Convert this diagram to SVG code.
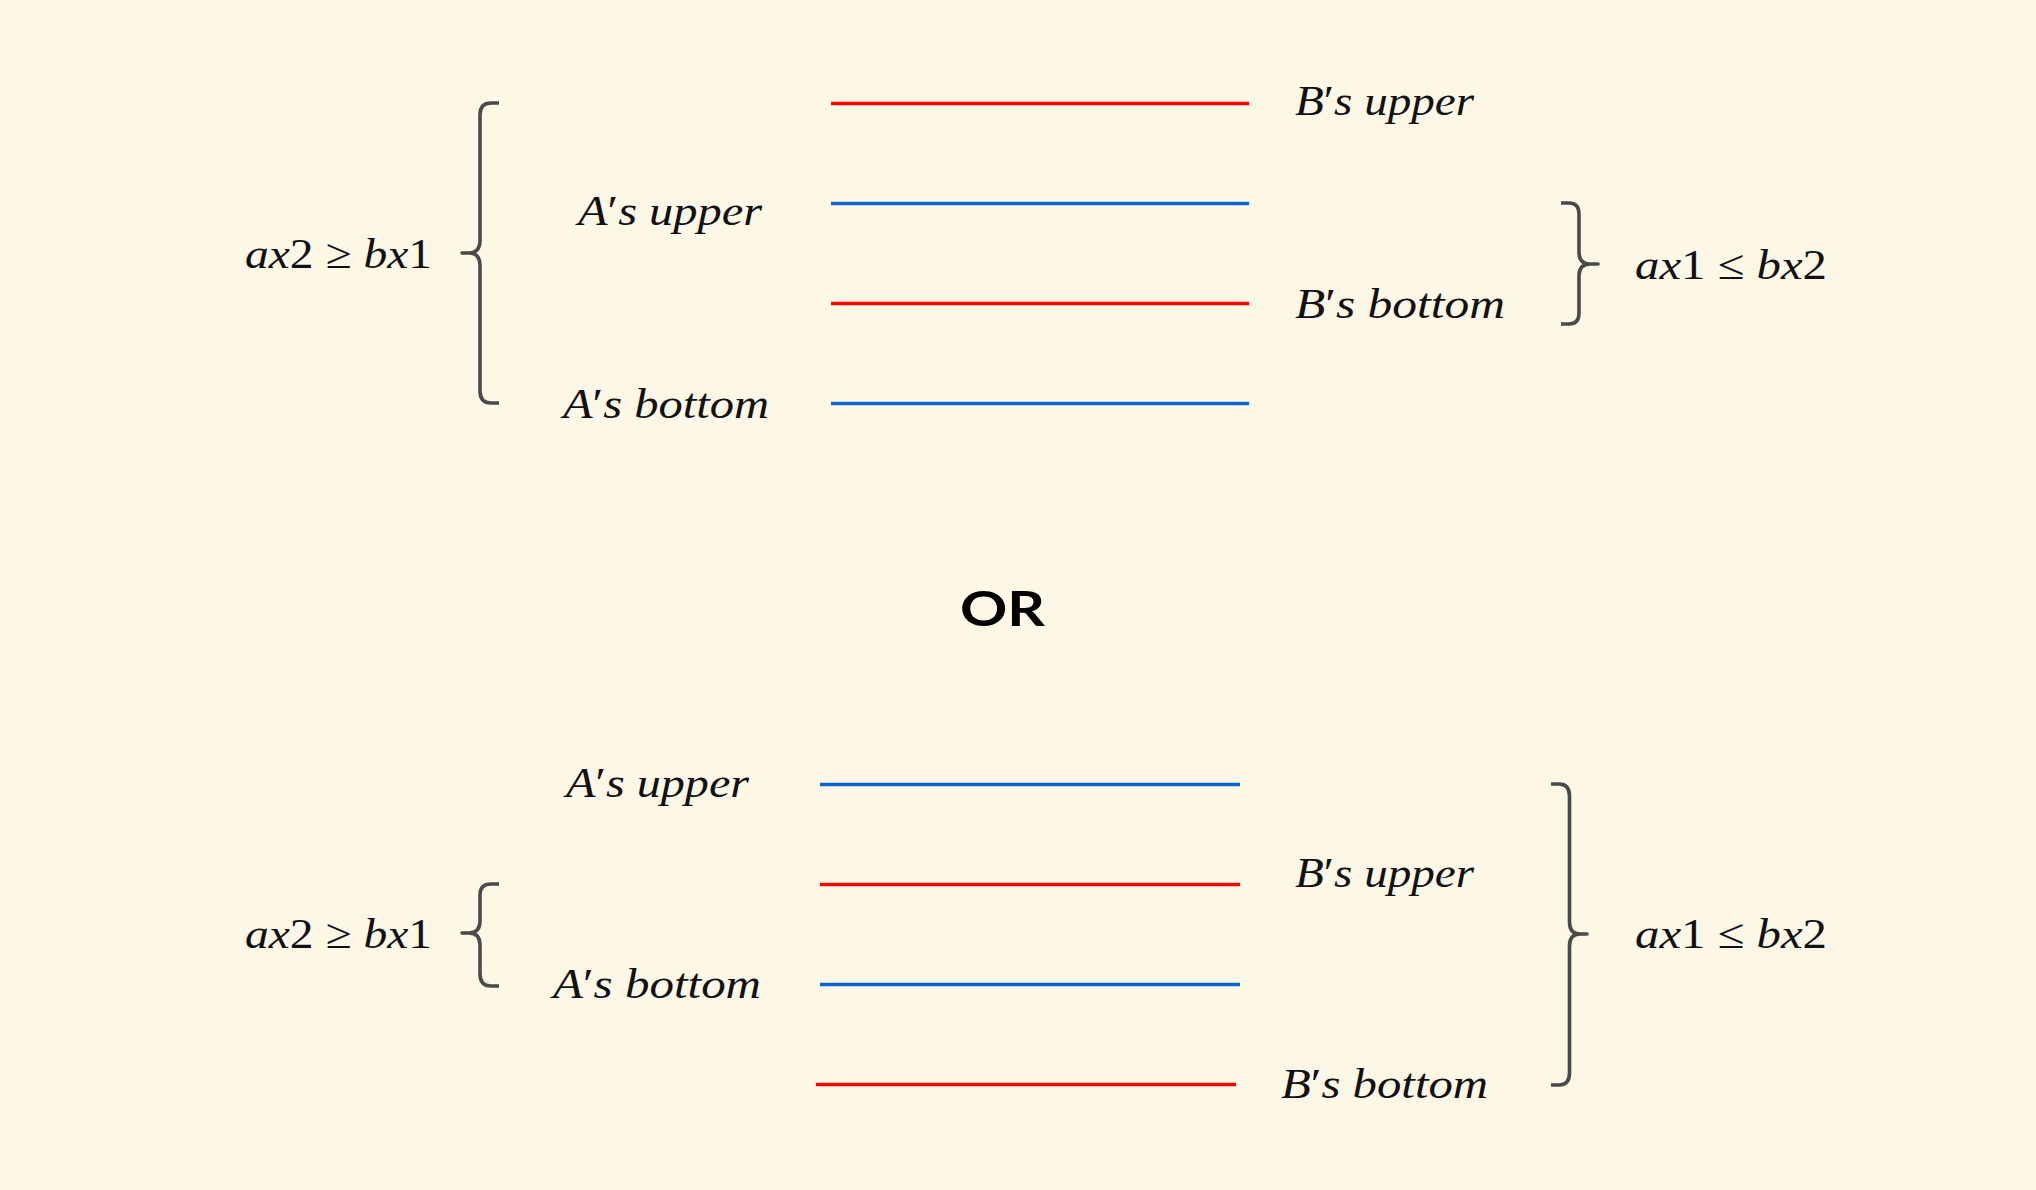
<svg xmlns="http://www.w3.org/2000/svg" width="2036" height="1190" viewBox="0 0 2036 1190">
<style>
.bg{fill:#fdf7e5}
.lab{font-family:"Liberation Serif","Times New Roman",serif;font-size:42px;fill:#111}
.it{font-style:italic}
.red{stroke:#ff0000;stroke-width:3.4;fill:none}
.blue{stroke:#0a66cc;stroke-width:3.4;fill:none}
.brace{stroke:#4a4a4a;stroke-width:3.6;fill:none;stroke-linejoin:round;stroke-linecap:butt}
.or{font-family:Lato,"Open Sans",sans-serif;font-weight:700;font-size:48px;fill:#000}
</style>
<rect class="bg" x="0" y="0" width="2036" height="1190"/>

<g id="top-lines">
  <line id="top-b-upper-line" class="red" x1="831" y1="103.5" x2="1249" y2="103.5"/>
  <line id="top-a-upper-line" class="blue" x1="831" y1="203.5" x2="1249" y2="203.5"/>
  <line id="top-b-bottom-line" class="red" x1="831" y1="303.5" x2="1249" y2="303.5"/>
  <line id="top-a-bottom-line" class="blue" x1="831" y1="403.5" x2="1249" y2="403.5"/>
</g>

<g id="bottom-lines">
  <line id="bot-a-upper-line" class="blue" x1="820" y1="784.5" x2="1240" y2="784.5"/>
  <line id="bot-b-upper-line" class="red" x1="820" y1="884.5" x2="1240" y2="884.5"/>
  <line id="bot-a-bottom-line" class="blue" x1="820" y1="984.5" x2="1240" y2="984.5"/>
  <line id="bot-b-bottom-line" class="red" x1="816" y1="1084.5" x2="1236" y2="1084.5"/>
</g>

<g id="braces">
  <path id="brace-top-left" class="brace" d="M499,103 H491 Q480,103 480,115 V240 Q480,253 469,253 H462 H469 Q480,253 480,266 V391 Q480,403 491,403 H499"/>
  <path id="brace-top-right" class="brace" d="M1561,203 H1569 Q1579,203 1579,214 V252 Q1579,264 1590,264 H1598 H1590 Q1579,264 1579,276 V313 Q1579,324 1569,324 H1561"/>
  <path id="brace-bot-left" class="brace" d="M499,884 H491 Q480,884 480,895 V921 Q480,933 469,933 H462 H469 Q480,933 480,945 V974 Q480,986 491,986 H499"/>
  <path id="brace-bot-right" class="brace" d="M1551,784 H1559 Q1569.5,784 1569.5,796 V922 Q1569.5,934 1580,934 H1587 H1580 Q1569.5,934 1569.5,946 V1073 Q1569.5,1085 1559,1085 H1551"/>
</g>

<g id="top-labels">
  <text id="t-b-upper" class="lab" x="1295" y="115" textLength="179" lengthAdjust="spacingAndGlyphs"><tspan class="it">B</tspan>′<tspan class="it">s upper</tspan></text>
  <text id="t-a-upper" class="lab" x="578" y="225" textLength="184" lengthAdjust="spacingAndGlyphs"><tspan class="it">A</tspan>′<tspan class="it">s upper</tspan></text>
  <text id="t-b-bottom" class="lab" x="1295" y="318" textLength="210" lengthAdjust="spacingAndGlyphs"><tspan class="it">B</tspan>′<tspan class="it">s bottom</tspan></text>
  <text id="t-a-bottom" class="lab" x="563" y="418" textLength="206" lengthAdjust="spacingAndGlyphs"><tspan class="it">A</tspan>′<tspan class="it">s bottom</tspan></text>
  <text id="t-ax2" class="lab" x="245" y="268" textLength="187" lengthAdjust="spacingAndGlyphs"><tspan class="it">ax</tspan>2 ≥ <tspan class="it">bx</tspan>1</text>
  <text id="t-ax1" class="lab" x="1635" y="279" textLength="192" lengthAdjust="spacingAndGlyphs"><tspan class="it">ax</tspan>1 ≤ <tspan class="it">bx</tspan>2</text>
</g>

<g id="or-label">
  <text id="t-or" class="or" x="960" y="626" textLength="85" lengthAdjust="spacingAndGlyphs">OR</text>
</g>

<g id="bottom-labels">
  <text id="b-a-upper" class="lab" x="566" y="797" textLength="183" lengthAdjust="spacingAndGlyphs"><tspan class="it">A</tspan>′<tspan class="it">s upper</tspan></text>
  <text id="b-b-upper" class="lab" x="1295" y="887" textLength="179" lengthAdjust="spacingAndGlyphs"><tspan class="it">B</tspan>′<tspan class="it">s upper</tspan></text>
  <text id="b-a-bottom" class="lab" x="553" y="998" textLength="208" lengthAdjust="spacingAndGlyphs"><tspan class="it">A</tspan>′<tspan class="it">s bottom</tspan></text>
  <text id="b-b-bottom" class="lab" x="1281" y="1098" textLength="207" lengthAdjust="spacingAndGlyphs"><tspan class="it">B</tspan>′<tspan class="it">s bottom</tspan></text>
  <text id="b-ax2" class="lab" x="245" y="948" textLength="187" lengthAdjust="spacingAndGlyphs"><tspan class="it">ax</tspan>2 ≥ <tspan class="it">bx</tspan>1</text>
  <text id="b-ax1" class="lab" x="1635" y="948" textLength="192" lengthAdjust="spacingAndGlyphs"><tspan class="it">ax</tspan>1 ≤ <tspan class="it">bx</tspan>2</text>
</g>
</svg>
